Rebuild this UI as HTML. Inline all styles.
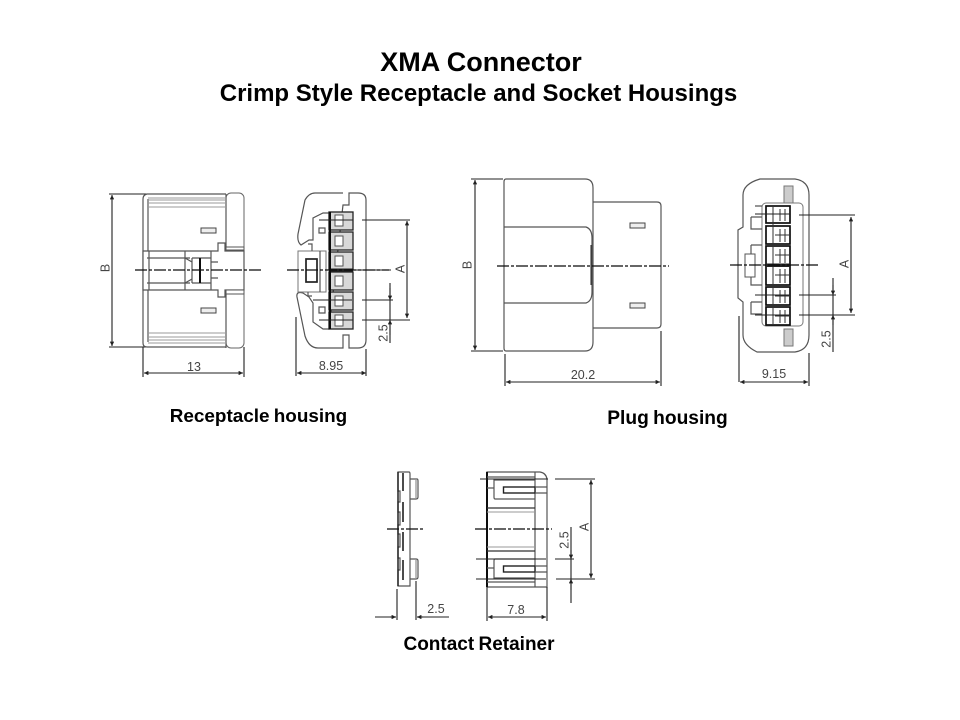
<!DOCTYPE html>
<html><head><meta charset="utf-8"><style>
html,body{margin:0;padding:0;background:#fff;width:960px;height:720px;overflow:hidden}
svg{display:block}
.t{font-family:"Liberation Sans",Arial,sans-serif;font-weight:bold;fill:#000;text-anchor:middle}
.s{word-spacing:-1px}
.d{font-family:"Liberation Sans",Arial,sans-serif;fill:#444;font-size:12.500px;text-anchor:middle}
.g{fill:none;stroke:#555;stroke-width:1.200}
.l{fill:none;stroke:#999;stroke-width:1}
.k{fill:none;stroke:#222;stroke-width:1.100}
.c{fill:none;stroke:#111;stroke-width:1.200;stroke-dasharray:12 2 3 2}
.dark{fill:#222;stroke:none}
</style></head><body>
<svg width="960" height="720" viewBox="0 0 960 720" xmlns="http://www.w3.org/2000/svg">
<defs><marker id="a" viewBox="0 0 6 6" refX="6" refY="3" markerWidth="5" markerHeight="4" orient="auto-start-reverse"><path d="M0 0L6 3L0 6z" fill="#222"/></marker>
<filter id="b" filterUnits="userSpaceOnUse" x="0" y="0" width="960" height="720"><feGaussianBlur stdDeviation="0.35"/></filter></defs>
<text class="t" x="481" y="71" font-size="27">XMA Connector</text>
<text class="t" x="478.500" y="101" font-size="24">Crimp Style Receptacle and Socket Housings</text>
<text class="t s" x="258.500" y="422" font-size="18.900">Receptacle housing</text>
<text class="t s" x="667.500" y="424" font-size="19.200">Plug housing</text>
<text class="t s" x="479" y="650" font-size="19">Contact Retainer</text>
<g filter="url(#b)">
<!-- Receptacle side -->
<g>
<path class="k" d="M109 194H225M109 347H226M143 347V377M244 347V377"/>
<path class="k" marker-start="url(#a)" marker-end="url(#a)" d="M112 195V346"/>
<path class="k" marker-start="url(#a)" marker-end="url(#a)" d="M144 373H243"/>
<text class="d" transform="translate(109.500 268) rotate(-90)">B</text>
<text class="d" x="194" y="371">13</text>
<rect x="226" y="193" width="18" height="155" rx="5" fill="#fff" stroke="#666"/>
<path class="g" d="M226 194H147Q143 195 143 199V343Q143 347 147 347H226M148 199V342M226 194V348"/>
<path class="l" d="M148 198H226M148 200H226M148 203H226M148 207H226M148 333H226M148 337H226M148 340H226M148 343H226"/>
<path fill="#fff" stroke="#555" stroke-width="1.200" d="M143 251H218V243H225V251H244V290H225V297H218V290H143z"/>
<path class="g" d="M149 251V290M147 258H190M147 283H190M185 251V290M192 258V283M185 258L192 262V279L185 283M211 251V290M192 258H211M192 283H211M211 262H218M211 278H218"/>
<path d="M200 258V283" stroke="#111" stroke-width="2" fill="none"/>
<path stroke="#555" fill="#fff" d="M226 247H244V250H226zM226 290H244V294H226z"/>
<rect x="201" y="228" width="15" height="5" fill="#eee" stroke="#444"/>
<rect x="201" y="308" width="15" height="5" fill="#eee" stroke="#444"/>
<path class="c" d="M135 270H261"/>
</g>

<!-- Receptacle end -->
<g>
<path class="g" d="M343 193H315Q309 193 305 200L298 234Q297 242 301 245L309 240H313V218L323 213H329M329 329H323L313 322V303L309 297L303 293Q296 291 297 297L305 336Q309 348 318 348H343V335H349V348H358Q366 348 366 340V200Q366 193 358 193H349V205H343z"/>
<rect x="298" y="251" width="28" height="41" fill="#fff" stroke="#777"/>
<rect x="306" y="259" width="11" height="23" fill="#fff" stroke="#222" stroke-width="1.700"/>
<path class="g" d="M320 251V292M308 244H312V251M308 292V296H312M319 228H325V233H319zM319 307H325V313H319z"/>
<g fill="#d8d8d8" stroke="#222" stroke-width="1.300">
<rect x="329" y="212" width="24" height="18"/><rect x="329" y="232" width="24" height="18"/><rect x="329" y="252" width="24" height="18"/><rect x="329" y="272" width="24" height="18"/><rect x="329" y="292" width="24" height="18"/><rect x="329" y="312" width="24" height="17"/>
</g>
<g fill="#fff" stroke="#555"><rect x="335" y="215" width="8" height="11"/><rect x="335" y="236" width="8" height="10"/><rect x="335" y="256" width="8" height="10"/><rect x="335" y="276" width="8" height="10"/><rect x="335" y="296" width="8" height="10"/><rect x="335" y="315" width="8" height="11"/></g>
<path d="M330 212V329" stroke="#111" stroke-width="2"/>
<path d="M331 268.500H353V271.500H331z" class="dark"/>
<path class="k" d="M319 220H353M362 220H410M313 300H352M362 300H393M319 320H353M362 320H410M390 283V343M333 270H391"/>
<path class="c" d="M287 270H389"/>
<path class="k" marker-start="url(#a)" marker-end="url(#a)" d="M407 221V318"/>
<path class="k" marker-end="url(#a)" d="M390 288V300"/>
<path class="k" marker-end="url(#a)" d="M390 335V320"/>
<path class="k" d="M296 317V376M366 349V376"/>
<path class="k" marker-start="url(#a)" marker-end="url(#a)" d="M297 373H366"/>
<text class="d" transform="translate(404.500 269) rotate(-90)">A</text>
<text class="d" transform="translate(387.500 333) rotate(-90)">2.5</text>
<text class="d" x="331" y="370">8.95</text>
</g>

<!-- Plug side -->
<g>
<path class="g" d="M593 202H657Q661 202 661 206V324Q661 328 657 328H593"/>
<path class="g" stroke-width="1.300" d="M506 179H585Q593 179 593 188V342Q593 351 585 351H506Q504 351 504 348V182Q504 179 506 179z"/>
<path class="g" d="M504 227H586Q592 229 592 238V292Q592 301 586 303H504"/>
<path d="M591 245V285" stroke="#222" stroke-width="1"/>
<rect x="630" y="223" width="15" height="5" fill="#eee" stroke="#444"/>
<rect x="630" y="303" width="15" height="5" fill="#eee" stroke="#444"/>
<path class="c" d="M497 266H669"/>
<path class="k" d="M471 179H503M471 351H503M505 354V386M661 331V386"/>
<path class="k" marker-start="url(#a)" marker-end="url(#a)" d="M475 180V350"/>
<path class="k" marker-start="url(#a)" marker-end="url(#a)" d="M506 382H660"/>
<text class="d" transform="translate(471.500 265) rotate(-90)">B</text>
<text class="d" x="583" y="379">20.2</text>
</g>

<!-- Plug end -->
<g>
<path class="g" d="M782 179H760Q743 184 743 195V227L738 230V298L743 302V335Q743 345 757 352H795Q809 350 809 335V195Q809 181 795 179H782"/>
<rect x="762" y="203" width="41" height="123" rx="4" fill="#fff" stroke="#777"/>
<rect x="784" y="186" width="9" height="17" fill="#ccc" stroke="#777"/>
<rect x="784" y="329" width="9" height="17" fill="#ccc" stroke="#777"/>
<path class="g" d="M751 217H762M751 217V229H762M751 245H762M751 245V285H762M751 302H762M751 302V314H762M755 206H762"/>
<rect x="745" y="254" width="10" height="23" fill="#fff" stroke="#555"/>
<g fill="#fff" stroke="#111" stroke-width="1.700">
<rect x="766" y="206" width="24" height="17"/><rect x="766" y="226" width="24" height="18"/><rect x="766" y="246" width="24" height="19"/><rect x="766" y="266" width="24" height="19"/><rect x="766" y="287" width="24" height="18"/><rect x="766" y="307" width="24" height="18"/>
</g>
<g fill="none" stroke="#333"><path d="M773 206V325M780 209V221M785 209V221M780 229V242M785 229V242M780 249V263M785 249V263M780 269V283M785 269V283M780 290V303M785 290V303M780 310V323M785 310V323M775 214H790M775 235H790M775 255H790M775 275H790M775 296H790M775 316H790"/></g>
<path class="dark" d="M766 263.500H790V267H766z"/>
<path class="k" d="M755 214H790M799 215H855M755 295H790M799 295H836M755 315H790M799 315H855M833 278V352"/>
<path class="c" d="M730 265H820"/>
<path class="k" marker-start="url(#a)" marker-end="url(#a)" d="M851 217V313"/>
<path class="k" marker-end="url(#a)" d="M833 285V295"/>
<path class="k" marker-end="url(#a)" d="M833 325V315"/>
<path class="k" d="M739 316V382M809 353V386"/>
<path class="k" marker-start="url(#a)" marker-end="url(#a)" d="M740 382H808"/>
<text class="d" transform="translate(848.500 264) rotate(-90)">A</text>
<text class="d" transform="translate(830.500 339) rotate(-90)">2.5</text>
<text class="d" x="774" y="378">9.15</text>
</g>

<!-- Retainer side -->
<g>
<path class="g" d="M398 472H409Q410 472 410 474V586H398V570H400V558H398V547H400V534H398V525H400V512H398V502H400V491H398z"/>
<path d="M398 472V586" stroke="#222" stroke-width="1.500"/>
<path d="M403 473V491M403 502V522M403 532V551M403 560V580" stroke="#111" stroke-width="1.500" fill="none"/>
<path class="g" d="M410 479H417Q418 479 418 481V497Q418 499 416 499H410M410 559H416Q418 559 418 561V577Q418 579 416 579H410"/>
<path d="M416 480V498M416 560V578" stroke="#777"/>
<path class="c" d="M387 529H423"/>
<path class="k" d="M397 589V620M416 581V620M375 617H393M423 617H449"/>
<path class="k" marker-end="url(#a)" d="M390 617H396"/>
<path class="k" marker-end="url(#a)" d="M423 617H417"/>
<text class="d" x="436" y="613">2.5</text>
</g>

<!-- Retainer top -->
<g>
<path class="g" d="M487 472H540Q546 473 547 479V587H487z"/>
<path d="M487 472V587" stroke="#111" stroke-width="2"/>
<path class="g" d="M535 472V587M487 477H535M487 582H535"/>
<path class="g" d="M535 499H495Q494 499 494 497V480H535M494 488H487M535 559H495Q494 559 494 561V578H535M494 568H487"/>
<rect x="503.500" y="487" width="31.500" height="6" fill="#fff" stroke="#222" stroke-width="1.400"/>
<rect x="503.500" y="566" width="31.500" height="6" fill="#fff" stroke="#222" stroke-width="1.400"/>
<path class="g" d="M535 487H547M535 493H547M535 566H547M535 572H547"/>
<path class="l" d="M487 512H535M487 547H535"/>
<path d="M487 508H535M487 551H535" stroke="#333" stroke-width="1.200"/>
<path class="c" d="M475 529H552"/>
<path class="k" d="M480 479H548M555 479H595M476 559H546M555 559H574M476 579H546M556 579H595M571 527V603"/>
<path class="k" marker-start="url(#a)" marker-end="url(#a)" d="M591 480V578"/>
<path class="k" marker-end="url(#a)" d="M571 550V559"/>
<path class="k" marker-end="url(#a)" d="M571 590V579"/>
<path class="k" d="M487 587V621M547 587V621"/>
<path class="k" marker-start="url(#a)" marker-end="url(#a)" d="M488 617H546"/>
<text class="d" transform="translate(568.500 540) rotate(-90)">2.5</text>
<text class="d" transform="translate(588.500 527) rotate(-90)">A</text>
<text class="d" x="516" y="614">7.8</text>
</g>
</g>
</svg>
</body></html>
